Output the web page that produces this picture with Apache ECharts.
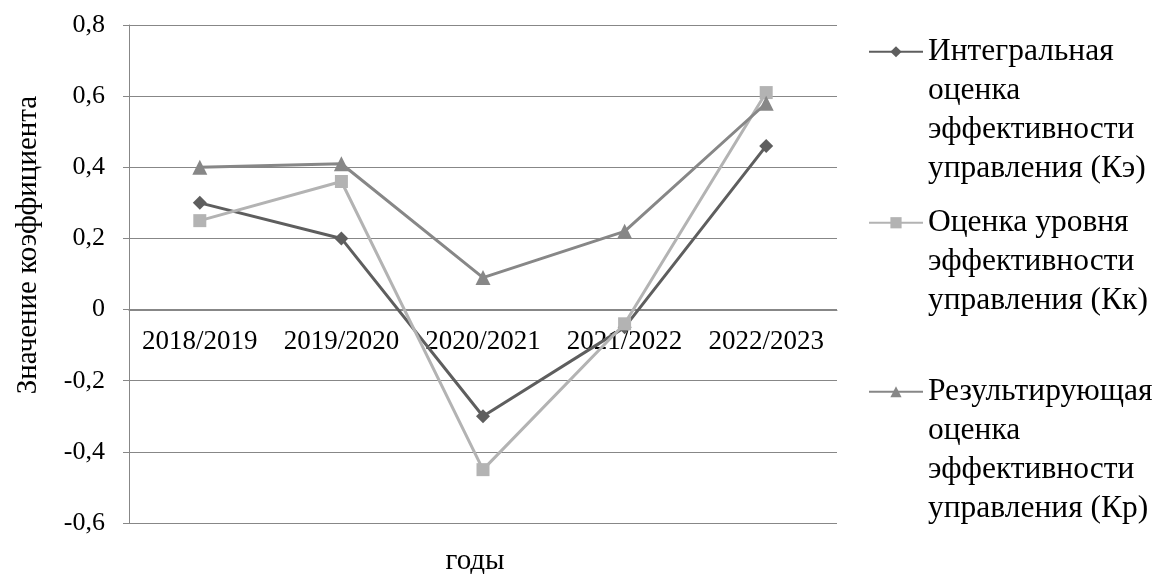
<!DOCTYPE html>
<html>
<head>
<meta charset="utf-8">
<script src="https://cdn.jsdelivr.net/npm/echarts@6/dist/echarts.min.js"></script>
<style>
html,body{margin:0;padding:0;background:#fff;}
#chart{width:1155px;height:574px;}
</style>
</head>
<body>
<div id="chart"></div>
<script>
const categories = ['2018/2019', '2019/2020', '2020/2021', '2021/2022', '2022/2023'];
const seriesNames = [
  'Интегральная\nоценка\nэффективности\nуправления (Кэ)',
  'Оценка уровня\nэффективности\nуправления (Кк)',
  'Результирующая\nоценка\nэффективности\nуправления (Кр)'
];
const integralK = [0.30, 0.20, -0.30, -0.05, 0.46];
const levelK = [0.25, 0.36, -0.45, -0.04, 0.61];
const resultK = [0.40, 0.41, 0.09, 0.22, 0.58];
const yTicks = [-0.6, -0.4, -0.2, 0, 0.2, 0.4, 0.6, 0.8];
const xTitle = 'годы';
const yTitle = 'Значение коэффициента';

const FONT = '"Liberation Serif", "Times New Roman", serif';
const GRID = '#878787';
const LH = 39;
const LFS = 31.5;
const legendFirstLineY = [48, 219, 388];

const chart = echarts.init(document.getElementById('chart'), null, {renderer: 'canvas'});
function mkSeries(name, data, color, symbol, size) {
  return {
    name: name, type: 'line', data: data,
    symbol: symbol, symbolSize: size,
    lineStyle: {color: color, width: 3},
    itemStyle: {color: color},
    emphasis: {disabled: true},
    animation: false
  };
}
function mkLegend(i) {
  const n = seriesNames[i].split('\n').length;
  const pad = '\u00a0\n'.repeat(n - 1);
  return {
    orient: 'vertical',
    left: 868, top: legendFirstLineY[i] - (n - 1) * LH - LFS / 2, padding: 0,
    itemWidth: 54, itemHeight: 14,
    selectedMode: false,
    textStyle: {fontFamily: FONT, fontSize: LFS, color: '#000', lineHeight: LH},
    formatter: name => pad + name,
    data: [seriesNames[i]]
  };
}
chart.setOption({
  animation: false,
  textStyle: {fontFamily: FONT, color: '#000'},
  grid: {left: 129, right: 318, top: 25, bottom: 51, containLabel: false, outerBoundsMode: 'none'},
  legend: [mkLegend(0), mkLegend(1), mkLegend(2)],
  xAxis: {
    type: 'category', data: categories, boundaryGap: true,
    offset: -213,
    axisLine: {onZero: false, lineStyle: {color: GRID, width: 1}},
    axisTick: {show: false},
    axisLabel: {fontFamily: FONT, fontSize: 27, color: '#000', margin: 18, interval: 0},
    name: xTitle, nameLocation: 'middle', nameGap: 237, nameMoveOverlap: false,
    nameTextStyle: {fontFamily: FONT, fontSize: 29, color: '#000', padding: [0, 16, 0, 0]},
    splitLine: {show: false}
  },
  yAxis: {
    type: 'value', min: yTicks[0], max: yTicks[yTicks.length - 1], interval: 0.2,
    axisLine: {show: true, lineStyle: {color: GRID, width: 1}},
    axisTick: {show: true, length: 6, lineStyle: {color: GRID}},
    axisLabel: {fontFamily: FONT, fontSize: 26, color: '#000', margin: 24,
      formatter: v => Math.abs(v) < 1e-9 ? '0' : v.toFixed(1).replace('.', ',')},
    splitLine: {show: true, lineStyle: {color: GRID, width: 1}},
    name: yTitle, nameLocation: 'middle', nameGap: 86, nameRotate: 90, nameMoveOverlap: false,
    nameTextStyle: {fontFamily: FONT, fontSize: 29, color: '#000', padding: [0, 0, 0, 58]}
  },
  series: [
    mkSeries(seriesNames[0], integralK, '#5e5e5e', 'diamond', 14),
    mkSeries(seriesNames[1], levelK, '#b3b3b3', 'rect', 13),
    mkSeries(seriesNames[2], resultK, '#878787', 'triangle', 15)
  ]
});
</script>
</body>
</html>
